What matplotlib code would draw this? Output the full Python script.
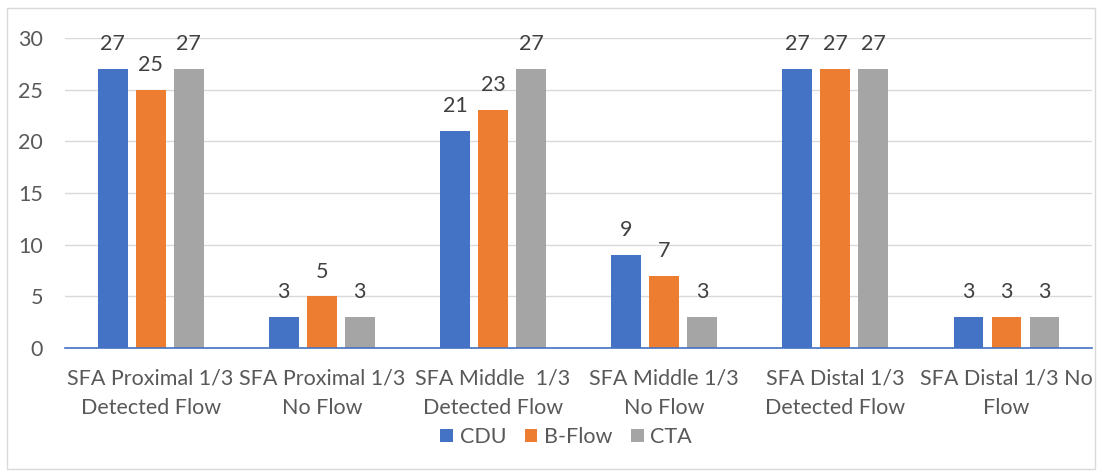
import matplotlib
matplotlib.use("Agg")
import matplotlib.pyplot as plt
import numpy as np
from matplotlib.patches import Rectangle

categories = ["SFA Proximal 1/3\nDetected Flow", "SFA Proximal 1/3\nNo Flow",
              "SFA Middle  1/3\nDetected Flow", "SFA Middle 1/3\nNo Flow",
              "SFA Distal 1/3\nDetected Flow", "SFA Distal 1/3 No\nFlow"]
series_names = ["CDU", "B-Flow", "CTA"]
cdu = [27, 3, 21, 9, 27, 3]
bflow = [25, 5, 23, 7, 27, 3]
cta = [27, 3, 27, 3, 27, 3]
colors = ["#4472C4", "#ED7D31", "#A5A5A5"]

plt.rcParams['font.family'] = ['Lato', 'DejaVu Sans']
txt = "#595959"
fs = 15.5

fig = plt.figure(figsize=(11.02, 4.72), dpi=100)
ax = fig.add_axes([0.059, 0.2627, 0.932, 0.657])
fig.patches.append(Rectangle((0.006, 0.006), 0.988, 0.977, transform=fig.transFigure,
                             fill=False, edgecolor="#D9D9D9", linewidth=1))

x = np.arange(len(categories))
w = 0.175
off = 0.222
for i, (vals, name) in enumerate(zip([cdu, bflow, cta], series_names)):
    bars = ax.bar(x + (i - 1) * off, vals, w, color=colors[i], label=name, zorder=3)
    for b, v in zip(bars, vals):
        ax.text(b.get_x() + b.get_width() / 2, v + 2.4, str(v), ha="center", va="center",
                fontsize=fs, color="#404040")

ax.set_xlim(-0.5, len(categories) - 0.5)
ax.set_ylim(0, 30)
ax.set_yticks(range(0, 31, 5))
ax.yaxis.grid(True, color="#D9D9D9", linewidth=1, zorder=0)
for s in ["top", "right", "left"]:
    ax.spines[s].set_visible(False)
ax.spines["bottom"].set_color("#4472C4")
ax.spines["bottom"].set_linewidth(1.2)
ax.spines["bottom"].set_zorder(4)
ax.tick_params(axis="both", length=0, labelsize=fs, labelcolor=txt)
ax.tick_params(axis="y", pad=16)
ax.tick_params(axis="x", pad=15)
ax.set_xticks(x)
ax.set_xticklabels(categories, linespacing=1.55)

ax.legend(loc="center", bbox_to_anchor=(566 / 1102, 1 - 437 / 472), bbox_transform=fig.transFigure,
          ncol=3, frameon=False, fontsize=fs, handlelength=0.6, handleheight=0.6,
          handletextpad=0.3, columnspacing=0.85, labelcolor=txt)

fig.savefig("out.png", dpi=100)
